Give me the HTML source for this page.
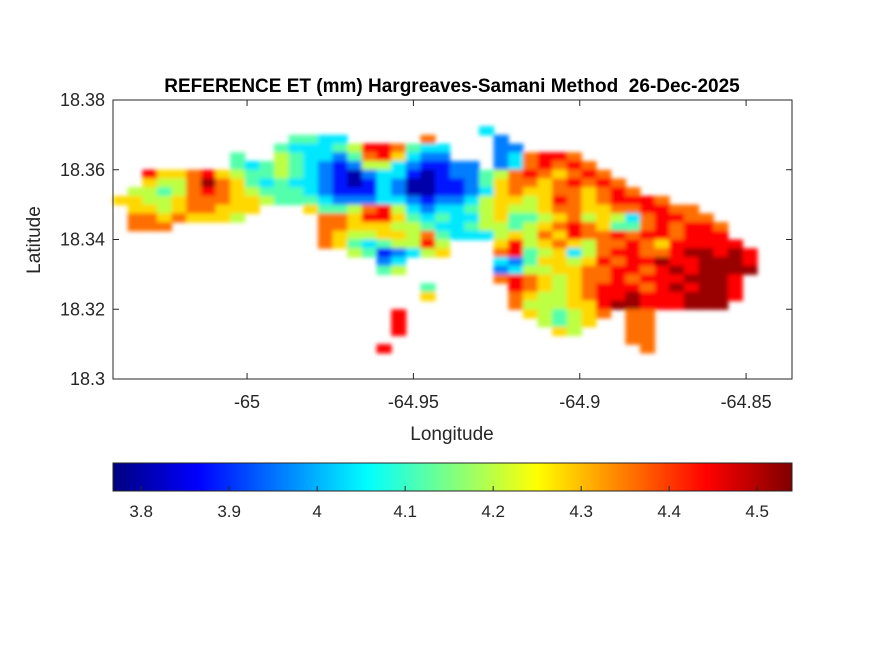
<!DOCTYPE html>
<html><head><meta charset="utf-8"><style>
body{margin:0;background:#fff;}
svg{display:block;font-family:"Liberation Sans",Arial,sans-serif;}
</style></head><body>
<svg id="chart" width="875" height="656" viewBox="0 0 875 656" xmlns="http://www.w3.org/2000/svg">
<defs>
<linearGradient id="jet" x1="0" x2="1" y1="0" y2="0"></linearGradient>
<filter id="soft" x="-5%" y="-5%" width="110%" height="110%"><feGaussianBlur stdDeviation="2.2"/></filter>
</defs>
<rect width="875" height="656" fill="#fff"/>
<g id="cells" filter="url(#soft)"></g>
<rect x="113" y="100" width="679" height="279" fill="none" stroke="#262626" stroke-width="1"/>
<g id="axes"></g>
<text x="452" y="92" text-anchor="middle" font-size="19" font-weight="bold" fill="#000" xml:space="preserve">REFERENCE ET (mm) Hargreaves-Samani Method  26-Dec-2025</text>
<text x="452" y="440" text-anchor="middle" font-size="19" fill="#262626">Longitude</text>
<text transform="translate(40,240) rotate(-90)" text-anchor="middle" font-size="19" fill="#262626">Latitude</text>
<rect x="113" y="463" width="679" height="28" fill="url(#jet)" stroke="#262626" stroke-width="1"/>
<g id="cbaxis"></g>
</svg>
<script>
// Data
const lonTicks = [-65, -64.95, -64.9, -64.85];
const lonTickLabels = ["-65", "-64.95", "-64.9", "-64.85"];
const latTicks = [18.3, 18.32, 18.34, 18.36, 18.38];
const latTickLabels = ["18.3", "18.32", "18.34", "18.36", "18.38"];
const cbTicks = [3.8, 3.9, 4.0, 4.1, 4.2, 4.3, 4.4, 4.5];
const cbTickLabels = ["3.8", "3.9", "4", "4.1", "4.2", "4.3", "4.4", "4.5"];
const gridLon0 = -65.0403, gridLonStep = 0.0044, gridLat0 = 18.375, gridLatStep = 0.0025;
const levelBase = 3.80, levelStep = 0.08;
const rowStart = [0,25,12,11,8,8,2,2,1,0,1,1,1,14,14,16,18,18,26,21,21,27,19,19,19,35,18];
const rowCodes = [
"",
"3",
"4433.....7....2",
"433345887433...22",
"4.."+"5433"+"24786322"+"..."+"237887",
"43454321255321122"+"."+"2378787",
"86678654454321023310122457876787",
"6557976434"+"3321013200"+"1124677678"+"787",
"5545787654"+"4432111320"+"0112367667"+"76787",
"6655677766"+"5444322233"+"2122356656"+"87678887",
"665677666"+"..."+"6445785323"+"3456556776"+"6778877",
"77676665"+"....."+"7768864343"+"3564456756"+"5378877",
"777"+".........."+"7766655433"+"4554567876"+"44787887",
"7655665743"+"3356576877"+"87887888",
"764345585"+"..."+"6856765778"+"7688888",
"5412356"+"..."+"7845635788"+"77899898",
"23"+"......"+"3246656878"+"89889998",
"45......"+"2355667788"+"78989999",
"7876567787"+"8889998",
"4....."+"8765678887"+"898998",
"6....."+"7655678898"+"889998",
"7555668998"+"88999",
"8........"+"654567.77",
"8........."+"5456..77",
"8.........."+"65...77",
"77",
"8................."+"7"
];
// Axes
const X0=113, X1=792, Y0=100, Y1=379;
const lonMin=-65.0403, lonMax=-64.8362, latMin=18.3, latMax=18.38;
const cMin=3.768, cMax=4.5396;
const xs = v => X0 + (v-lonMin)/(lonMax-lonMin)*(X1-X0);
const ys = v => Y1 - (v-latMin)/(latMax-latMin)*(Y1-Y0);
const cs = v => X0 + (v-cMin)/(cMax-cMin)*(X1-X0);
function jet(t){
  t=Math.max(0,Math.min(1,t));
  const f=x=>Math.max(0,Math.min(1,x));
  const r=f(1.5-Math.abs(4*t-3)), g=f(1.5-Math.abs(4*t-2)), b=f(1.5-Math.abs(4*t-1));
  return `rgb(${Math.round(r*255)},${Math.round(g*255)},${Math.round(b*255)})`;
}
const NS="http://www.w3.org/2000/svg";
function mk(tag, attrs, parent){const e=document.createElementNS(NS,tag);for(const k in attrs)e.setAttribute(k,attrs[k]);parent.appendChild(e);return e;}
const cells=document.getElementById('cells');
rowCodes.forEach((code,j)=>{
  for(let k=0;k<code.length;k++){
    const ch=code[k]; if(ch==='.') continue;
    const i=rowStart[j]+k;
    const val=levelBase+Number(ch)*levelStep;
    const lonA=gridLon0+i*gridLonStep, latA=gridLat0-j*gridLatStep;
    const x=xs(lonA), y=ys(latA);
    const w=xs(lonA+gridLonStep)-x, h=ys(latA-gridLatStep)-y;
    const r=mk('rect',{x:x.toFixed(2),y:y.toFixed(2),width:(w+0.6).toFixed(2),height:(h+0.6).toFixed(2),fill:jet((val-cMin)/(cMax-cMin))},cells);
    
    
  }
});
const axes=document.getElementById('axes');
lonTicks.forEach((v,i)=>{
  const x=xs(v);
  const t1=mk('line',{x1:x,x2:x,y1:Y1,y2:Y1-6,stroke:'#262626'},axes);
  
  
  const t2=mk('line',{x1:x,x2:x,y1:Y0,y2:Y0+6,stroke:'#262626'},axes);
  
  
  const tx=mk('text',{x:x,y:Y1+29,'text-anchor':'middle','font-size':18,fill:'#262626'},axes);
  tx.textContent=lonTickLabels[i];
  
  
});
latTicks.forEach((v,i)=>{
  const y=ys(v);
  const t1=mk('line',{x1:X0,x2:X0+6,y1:y,y2:y,stroke:'#262626'},axes);
  
  
  const t2=mk('line',{x1:X1,x2:X1-6,y1:y,y2:y,stroke:'#262626'},axes);
  
  
  const tx=mk('text',{x:X0-8,y:y+6,'text-anchor':'end','font-size':18,fill:'#262626'},axes);
  tx.textContent=latTickLabels[i];
  
  
});
const grad=document.getElementById('jet');
for(let s=0;s<=64;s++){mk('stop',{offset:(s/64),'stop-color':jet(s/64)},grad);}
const cb=document.getElementById('cbaxis');
cbTicks.forEach((v,i)=>{
  const x=cs(v);
  const t=mk('line',{x1:x,x2:x,y1:491,y2:486,stroke:'#262626'},cb);
  
  
  const tx=mk('text',{x:x,y:517,'text-anchor':'middle','font-size':17,fill:'#262626'},cb);
  tx.textContent=cbTickLabels[i];
  
  
});
</script>
</body></html>
